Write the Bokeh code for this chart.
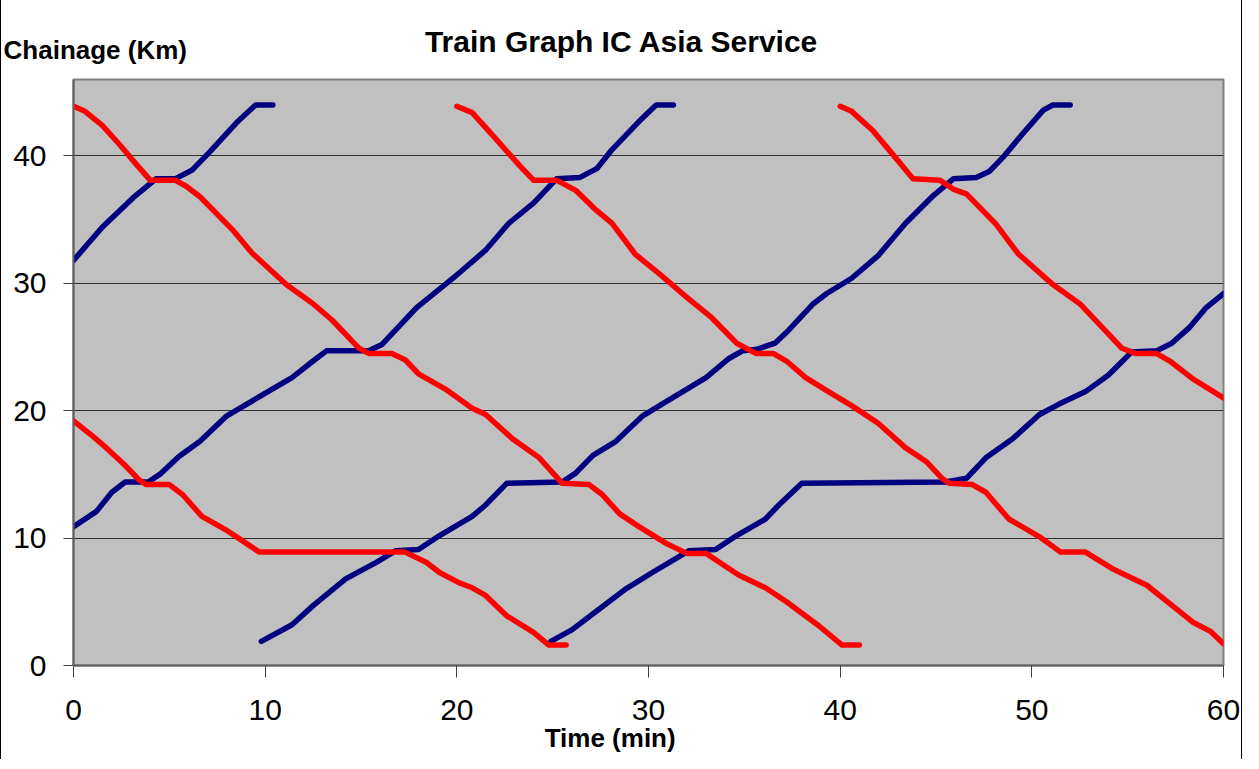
from bokeh.plotting import figure
from bokeh.models import Range1d, FixedTicker, Label
from bokeh.embed import file_html
from bokeh.resources import INLINE

# ---- data (time in minutes, chainage in km) ----
x_ticks = [0, 10, 20, 30, 40, 50, 60]
y_ticks = [0, 10, 20, 30, 40]

# Northbound trains (blue)
blue_a_t = [0.0, 1.5, 3.1, 4.3, 5.3, 6.2, 7.1, 8.5, 9.5, 10.4]
blue_a_km = [31.8, 34.4, 36.7, 38.2, 38.2, 38.9, 40.3, 42.6, 44.0, 44.0]

blue_b_t = [0.0, 1.2, 2.0, 2.7, 3.9, 4.5, 5.5, 6.6, 8.0, 9.7, 11.4, 12.5, 13.2, 15.4, 16.1,
            17.9, 19.8, 21.5, 22.7, 24.0, 25.2, 26.4, 27.3, 28.1, 29.5, 30.4, 31.3]
blue_b_km = [10.9, 12.1, 13.6, 14.4, 14.4, 15.0, 16.4, 17.6, 19.6, 21.1, 22.6, 23.9, 24.7, 24.7, 25.2,
             28.1, 30.4, 32.6, 34.7, 36.3, 38.2, 38.3, 39.0, 40.5, 42.7, 44.0, 44.0]

blue_c_t = [9.8, 11.4, 12.5, 14.2, 15.8, 16.8, 18.0, 19.1, 20.8, 21.5, 22.6, 25.5, 26.2, 27.1, 28.3,
            29.7, 30.9, 33.0, 34.2, 34.9, 35.6, 36.6, 37.3, 38.6, 39.3, 40.6, 42.0, 43.4, 44.8,
            45.9, 47.1, 47.8, 48.5, 49.5, 50.6, 51.1, 52.0]
blue_c_km = [1.9, 3.2, 4.7, 6.8, 8.1, 9.0, 9.1, 10.2, 11.7, 12.6, 14.3, 14.4, 15.1, 16.5, 17.6,
             19.6, 20.7, 22.6, 24.1, 24.7, 24.8, 25.3, 26.3, 28.4, 29.2, 30.4, 32.2, 34.7, 36.8,
             38.2, 38.3, 38.8, 39.9, 41.7, 43.6, 44.0, 44.0]

blue_d_t = [24.9, 26.0, 27.4, 28.8, 30.2, 32.1, 33.5, 34.6, 36.1, 36.8, 38.0, 45.5, 46.6, 47.6,
            49.0, 50.4, 51.4, 52.8, 54.0, 55.2, 56.5, 57.3, 58.2, 59.1, 60.0]
blue_d_km = [1.9, 2.8, 4.4, 6.0, 7.3, 9.0, 9.1, 10.2, 11.5, 12.6, 14.3, 14.4, 14.7, 16.3,
             17.8, 19.7, 20.5, 21.5, 22.8, 24.6, 24.7, 25.3, 26.5, 28.1, 29.2]

# Southbound trains (red)
red_a_t = [0.0, 0.6, 1.5, 2.4, 3.3, 4.0, 5.3, 5.9, 6.6, 8.3, 9.3, 11.1, 12.5, 13.5, 14.9, 15.4,
           16.6, 17.3, 18.0, 19.4, 20.8, 21.5, 22.9, 24.3, 25.5, 26.9, 27.6, 28.5, 29.5, 30.9,
           32.0, 33.0, 33.7, 34.7, 36.1, 37.2, 38.9, 40.1, 41.0]
red_a_km = [43.9, 43.5, 42.4, 40.9, 39.3, 38.1, 38.1, 37.6, 36.8, 34.2, 32.4, 29.9, 28.4, 27.1, 24.9, 24.5,
            24.5, 24.0, 22.9, 21.7, 20.2, 19.7, 17.8, 16.3, 14.3, 14.2, 13.4, 11.9, 10.9, 9.6,
            8.8, 8.8, 8.1, 7.1, 6.1, 5.0, 3.1, 1.6, 1.6]

red_b_t = [0.0, 1.0, 1.7, 2.7, 3.4, 3.8, 5.0, 5.7, 6.7, 8.0, 8.8, 9.7, 17.3, 18.4, 19.1, 20.1,
           20.8, 21.5, 22.6, 24.0, 24.8, 25.7]
red_b_km = [19.2, 18.0, 17.1, 15.7, 14.6, 14.2, 14.2, 13.4, 11.7, 10.6, 9.8, 8.9, 8.9, 8.1, 7.3, 6.5,
            6.1, 5.5, 3.9, 2.6, 1.6, 1.6]

red_c_t = [20.0, 20.8, 22.0, 23.3, 24.0, 25.2, 26.2, 27.3, 28.1, 29.3, 30.6, 32.0, 33.3, 34.6,
           35.6, 36.5, 37.2, 38.2, 39.6, 40.6, 42.0, 43.4, 44.5, 45.3, 45.7, 46.9, 47.6, 48.8,
           50.4, 51.5, 52.8, 54.2, 56.0, 57.0, 58.4, 59.3, 60.0]
red_c_km = [43.9, 43.4, 41.4, 39.2, 38.1, 38.1, 37.3, 35.7, 34.7, 32.3, 30.7, 28.9, 27.3, 25.3,
            24.5, 24.5, 23.9, 22.6, 21.3, 20.4, 19.0, 17.1, 16.0, 14.7, 14.3, 14.2, 13.6, 11.5,
            10.1, 8.9, 8.9, 7.6, 6.3, 5.1, 3.4, 2.7, 1.7]

red_d_t = [40.0, 40.6, 41.7, 42.7, 43.8, 45.2, 45.9, 46.6, 48.1, 49.3, 51.1, 52.5, 53.7, 54.7,
           55.4, 56.5, 57.2, 58.4, 60.0]
red_d_km = [43.9, 43.5, 42.0, 40.2, 38.2, 38.1, 37.4, 37.0, 34.7, 32.3, 29.9, 28.4, 26.5, 24.9,
            24.5, 24.5, 23.9, 22.5, 21.0]

blue_trains = [(blue_a_t, blue_a_km), (blue_b_t, blue_b_km), (blue_c_t, blue_c_km), (blue_d_t, blue_d_km)]
red_trains = [(red_a_t, red_a_km), (red_b_t, red_b_km), (red_c_t, red_c_km), (red_d_t, red_d_km)]

title_text = "Train Graph IC Asia Service"
y_label_text = "Chainage (Km)"
x_label_text = "Time (min)"

FONT = "Liberation Sans"

p = figure(width=1242, height=759, output_backend="svg", toolbar_location=None,
           x_range=Range1d(0, 60), y_range=Range1d(0, 46),
           min_border_left=72, min_border_right=20, min_border_top=79, min_border_bottom=94)
p.styles = {"border-left": "1px solid black", "border-right": "1px solid black"}

p.background_fill_color = "#C0C0C0"
p.border_fill_color = "white"
p.outline_line_color = "#808080"
p.outline_line_width = 2

p.xgrid.visible = False
p.ygrid.ticker = FixedTicker(ticks=y_ticks)
p.ygrid.grid_line_color = "#303030"
p.ygrid.grid_line_width = 1

for ax, ticks, tick_out, standoff in ((p.xaxis[0], x_ticks, 12, 22), (p.yaxis[0], y_ticks, 10, 17)):
    ax.ticker = FixedTicker(ticks=ticks)
    ax.major_label_text_font = FONT
    ax.major_label_text_font_size = "30px"
    ax.major_label_text_color = "black"
    ax.axis_line_color = "#606060"
    ax.axis_line_width = 2
    ax.major_tick_line_color = "#404040"
    ax.major_tick_line_width = 1
    ax.major_tick_out = tick_out
    ax.major_tick_in = 0
    ax.minor_tick_line_color = None
    ax.major_label_standoff = standoff

for t, km in blue_trains:
    p.line(t, km, line_color="#000080", line_width=5.5, line_cap="round", line_join="round")
for t, km in red_trains:
    p.line(t, km, line_color="#FF0000", line_width=5.5, line_cap="round", line_join="round")

# Title and axis titles (placed in side panels so they are not clipped by the plot frame)
p.add_layout(Label(x=28.6, y=49.0, text=title_text, text_align="center", text_baseline="middle",
                   text_font=FONT, text_font_size="30px", text_font_style="bold", text_color="black"),
             "above")
p.add_layout(Label(x=-3.65, y=48.35, text=y_label_text, text_align="left", text_baseline="middle",
                   text_font=FONT, text_font_size="26px", text_font_style="bold", text_color="black"),
             "above")
p.add_layout(Label(x=28.0, y=-5.7, text=x_label_text, text_align="center", text_baseline="middle",
                   text_font=FONT, text_font_size="26px", text_font_style="bold", text_color="black"),
             "below")

open("out.html", "w").write(file_html(p, INLINE))
